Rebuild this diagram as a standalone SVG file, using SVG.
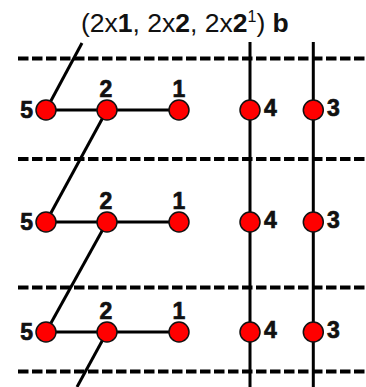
<svg xmlns="http://www.w3.org/2000/svg" width="366" height="387" viewBox="0 0 366 387">
<style>
.dash{stroke:#000;stroke-width:4;stroke-dasharray:10.5 3.5;fill:none}
.ln{stroke:#000;stroke-width:3;fill:none}
.nd{fill:#f00;stroke:#111;stroke-width:1.5}
.lb{font-family:"Liberation Sans",Arial,sans-serif;font-weight:bold;font-size:23px;fill:#111;stroke:#111;stroke-width:0.7}
.tt{font-family:"Liberation Sans",Arial,sans-serif;font-size:26.5px;fill:#111}
.b{font-weight:bold}
</style>
<rect width="366" height="387" fill="#fff"/>
<text class="tt" x="81" y="31.5">(2x<tspan class="b">1</tspan>, 2x<tspan class="b">2</tspan>, 2x<tspan class="b">2</tspan><tspan font-size="16" dy="-10">1</tspan><tspan dy="10">) </tspan><tspan class="b">b</tspan></text>
<g id="dashes">
<line class="dash" x1="18" y1="58.5" x2="366" y2="58.5"/>
<line class="dash" x1="18" y1="159" x2="366" y2="159"/>
<line class="dash" x1="18" y1="287.5" x2="366" y2="287.5"/>
<line class="dash" x1="18" y1="371.5" x2="366" y2="371.5"/>
</g>
<g id="connectors">
<line class="ln" x1="250" y1="42" x2="250" y2="387"/>
<line class="ln" x1="313.3" y1="42" x2="313.3" y2="387"/>
<line class="ln" x1="46" y1="110" x2="82" y2="43"/>
<line class="ln" x1="46" y1="110" x2="179" y2="110"/>
<line class="ln" x1="107" y1="110" x2="46" y2="222"/>
<line class="ln" x1="46" y1="222" x2="179" y2="222"/>
<line class="ln" x1="107" y1="222" x2="46" y2="332"/>
<line class="ln" x1="46" y1="332" x2="179" y2="332"/>
<line class="ln" x1="107" y1="332" x2="77" y2="387"/>
</g>
<g id="row1">
<g id="n5a"><circle class="nd" cx="46" cy="110" r="10"/><text class="lb" x="33" y="118" text-anchor="end">5</text></g>
<g id="n2a"><circle class="nd" cx="107" cy="110" r="10"/><text class="lb" x="106" y="97" text-anchor="middle">2</text></g>
<g id="n1a"><circle class="nd" cx="179" cy="110" r="10"/><text class="lb" x="179" y="97" text-anchor="middle">1</text></g>
<g id="n4a"><circle class="nd" cx="250" cy="110" r="10"/><text class="lb" x="264" y="116">4</text></g>
<g id="n3a"><circle class="nd" cx="313.3" cy="110" r="10"/><text class="lb" x="327" y="116">3</text></g>
</g>
<g id="row2">
<g id="n5b"><circle class="nd" cx="46" cy="222" r="10"/><text class="lb" x="33" y="230" text-anchor="end">5</text></g>
<g id="n2b"><circle class="nd" cx="107" cy="222" r="10"/><text class="lb" x="106" y="209" text-anchor="middle">2</text></g>
<g id="n1b"><circle class="nd" cx="179" cy="222" r="10"/><text class="lb" x="179" y="209" text-anchor="middle">1</text></g>
<g id="n4b"><circle class="nd" cx="250" cy="222" r="10"/><text class="lb" x="264" y="228">4</text></g>
<g id="n3b"><circle class="nd" cx="313.3" cy="222" r="10"/><text class="lb" x="327" y="228">3</text></g>
</g>
<g id="row3">
<g id="n5c"><circle class="nd" cx="46" cy="332" r="10"/><text class="lb" x="33" y="340" text-anchor="end">5</text></g>
<g id="n2c"><circle class="nd" cx="107" cy="332" r="10"/><text class="lb" x="106" y="319" text-anchor="middle">2</text></g>
<g id="n1c"><circle class="nd" cx="179" cy="332" r="10"/><text class="lb" x="179" y="319" text-anchor="middle">1</text></g>
<g id="n4c"><circle class="nd" cx="250" cy="332" r="10"/><text class="lb" x="264" y="338">4</text></g>
<g id="n3c"><circle class="nd" cx="313.3" cy="332" r="10"/><text class="lb" x="327" y="338">3</text></g>
</g>
</svg>
